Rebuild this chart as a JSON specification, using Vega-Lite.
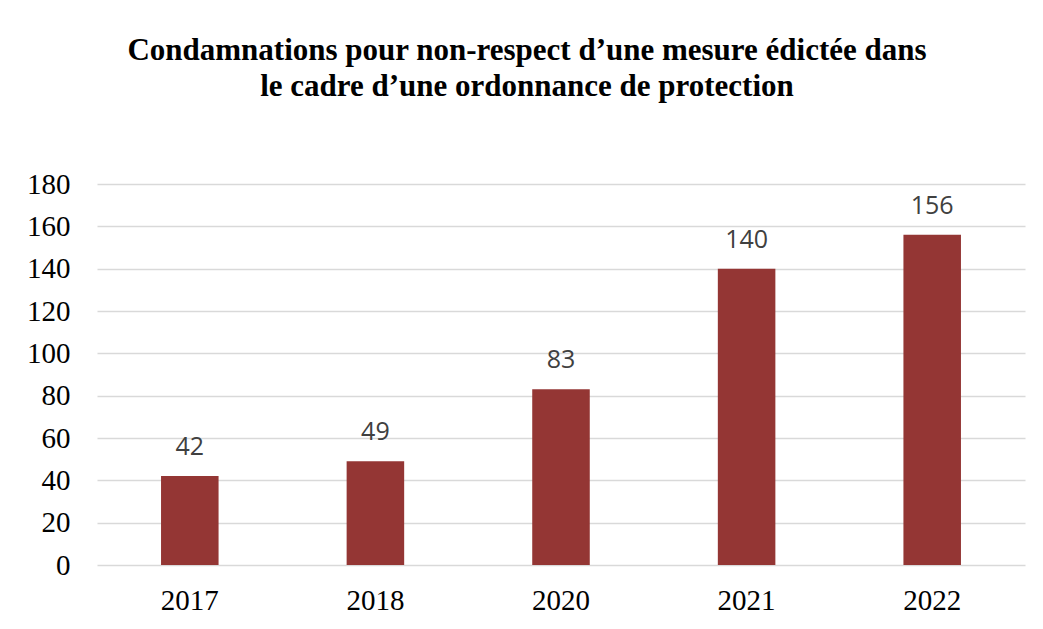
{
  "$schema": "https://vega.github.io/schema/vega-lite/v6.json",
  "autosize": {"type": "none"},
  "width": 928,
  "height": 381,
  "padding": {"left": 97, "top": 184, "right": 18, "bottom": 64},
  "background": "white",
  "title": {
    "text": ["Condamnations pour non-respect d’une mesure édictée dans", "le cadre d’une ordonnance de protection"],
    "font": "Liberation Serif",
    "fontSize": 31,
    "fontWeight": "bold",
    "color": "#000000",
    "anchor": "middle",
    "dx": -34,
    "offset": 67,
    "lineHeight": 36
  },
  "data": {
    "values": [
      {"annee": "2017", "n": 42},
      {"annee": "2018", "n": 49},
      {"annee": "2020", "n": 83},
      {"annee": "2021", "n": 140},
      {"annee": "2022", "n": 156}
    ]
  },
  "config": {"view": {"stroke": null}},
  "encoding": {
    "x": {
      "field": "annee", "type": "ordinal",
      "scale": {"paddingInner": 0, "paddingOuter": 0},
      "axis": {"title": null, "labelAngle": 0, "domain": false, "ticks": false, "grid": false,
        "labelFont": "Liberation Serif", "labelFontSize": 29, "labelColor": "#000000", "labelPadding": 21}
    },
    "y": {
      "field": "n", "type": "quantitative",
      "scale": {"domain": [0, 180], "nice": false},
      "axis": {"title": null, "values": [0, 20, 40, 60, 80, 100, 120, 140, 160, 180], "domain": false, "ticks": false,
        "gridColor": "#d9d9d9", "gridWidth": 1.5,
        "labelFont": "Liberation Serif", "labelFontSize": 29, "labelColor": "#000000", "labelPadding": 27}
    }
  },
  "layer": [
    {"mark": {"type": "bar", "color": "#943634", "width": {"band": 0.31}}},
    {"mark": {"type": "text", "baseline": "bottom", "dy": -16, "font": "Open Sans", "fontSize": 25, "color": "#404040"},
     "encoding": {"text": {"field": "n", "type": "quantitative"}}}
  ]
}
